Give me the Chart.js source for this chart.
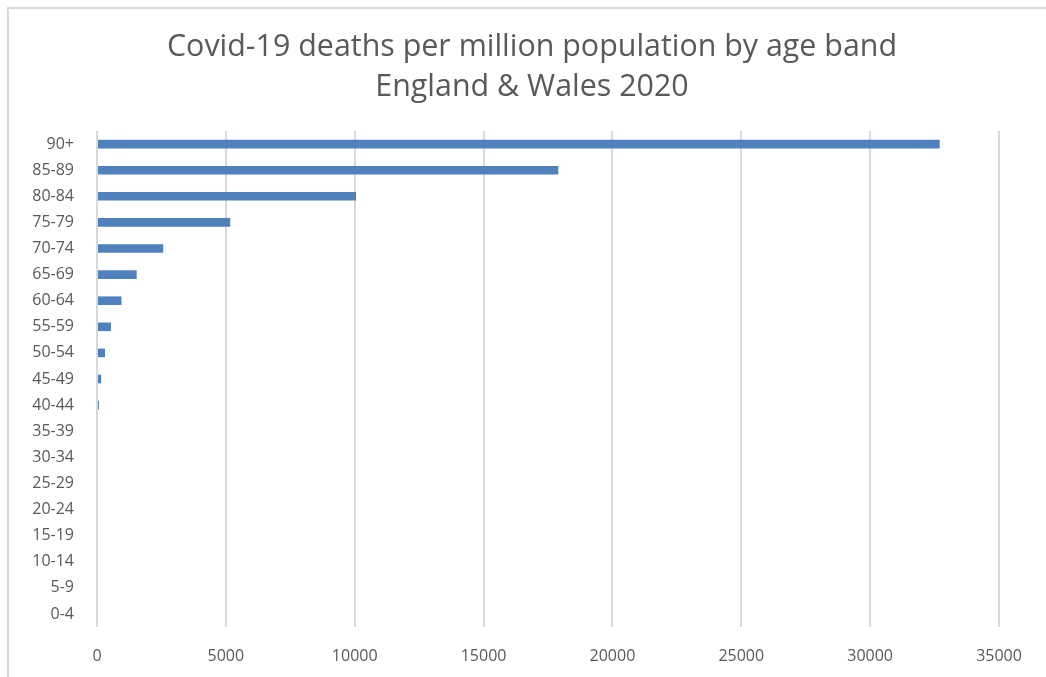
<!DOCTYPE html>
<html>
<head>
<meta charset="utf-8">
<script src="https://cdn.jsdelivr.net/npm/chart.js@4/dist/chart.umd.min.js"></script>
<style>
html,body{margin:0;padding:0;background:#fff;width:1046px;height:677px;overflow:hidden;}
#frame{position:absolute;left:7px;top:7px;width:1100px;height:700px;border-left:2px solid #d9d9d9;border-top:2px solid #d9d9d9;}
canvas{position:absolute;left:0;top:0;}
</style>
</head>
<body>
<div id="frame"></div>
<canvas id="c" width="1046" height="677"></canvas>
<script>
const ageBands = ["90+","85-89","80-84","75-79","70-74","65-69","60-64","55-59","50-54","45-49","40-44","35-39","30-34","25-29","20-24","15-19","10-14","5-9","0-4"];
const deathsPerMillion = [32700,17900,10050,5170,2570,1540,950,540,310,160,75,0,0,0,0,0,0,0,0];
const xTickMax = 35000;
const xTickStep = 5000;
const titleLines = ["Covid-19 deaths per million population by age band","England & Wales 2020"];

const textColor = "#595959";
const fontFamily = "'Open Sans', 'DejaVu Sans', sans-serif";

const shiftTitle = {
  id: "shiftTitle",
  afterLayout(chart) {
    if (chart.titleBlock) { chart.titleBlock.left += 65; }
  }
};

new Chart(document.getElementById("c"), {
  type: "bar",
  data: {
    labels: ageBands,
    datasets: [{
      data: deathsPerMillion,
      backgroundColor: "#4f81bd",
      borderWidth: 0,
      barPercentage: 0.33,
      categoryPercentage: 1.0
    }]
  },
  plugins: [shiftTitle],
  options: {
    indexAxis: "y",
    responsive: false,
    animation: false,
    layout: { padding: { left: 0, right: 47, top: 28, bottom: 0 } },
    plugins: {
      legend: { display: false },
      tooltip: { enabled: false },
      title: {
        display: true,
        text: titleLines,
        color: textColor,
        font: { family: fontFamily, size: 30.4, weight: "normal", lineHeight: 1.3 },
        padding: { top: 0, bottom: 24 }
      }
    },
    scales: {
      x: {
        min: 0,
        max: xTickMax,
        ticks: {
          stepSize: xTickStep,
          color: textColor,
          font: { family: fontFamily, size: 16 },
          padding: 20,
          maxRotation: 0,
          callback: function(v){ return String(v); }
        },
        grid: { color: "#d9d9d9", lineWidth: 2, drawTicks: false },
        border: { display: false },
        afterFit: function(s){ s.height = 50; }
      },
      y: {
        ticks: {
          color: textColor,
          font: { family: fontFamily, size: 16 },
          padding: 15,
          autoSkip: false
        },
        grid: { display: false },
        border: { display: false },
        afterFit: function(s){ s.width = 97; }
      }
    }
  }
});
</script>
</body>
</html>
